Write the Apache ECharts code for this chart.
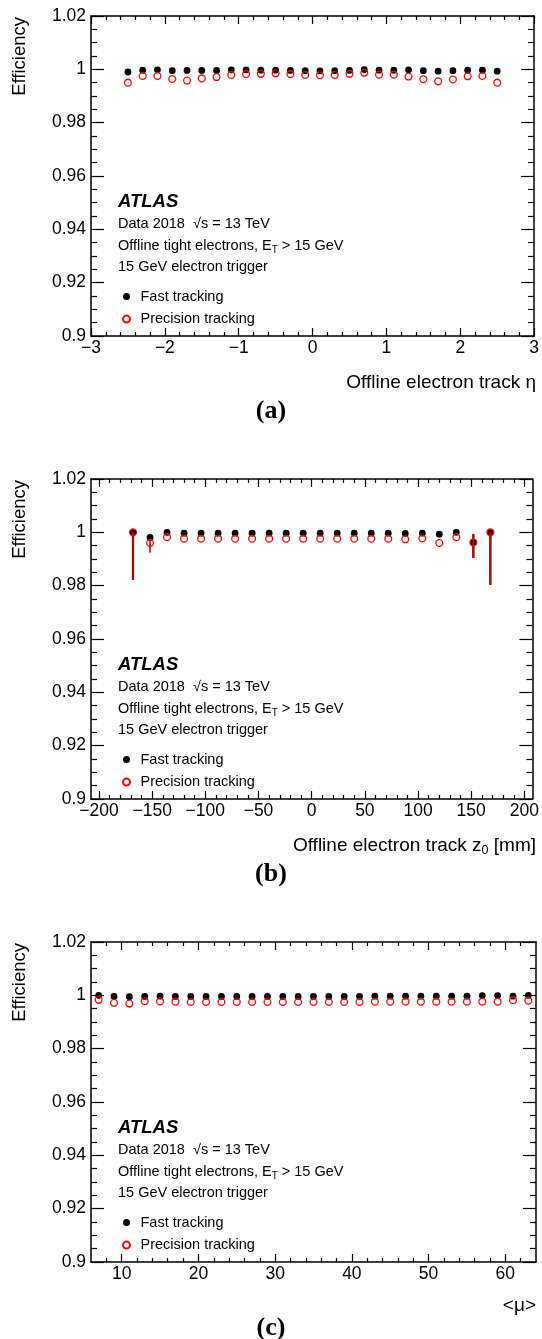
<!DOCTYPE html>
<html>
<head>
<meta charset="utf-8">
<script src="https://cdn.jsdelivr.net/npm/echarts@6/dist/echarts.min.js"></script>
<style>
html,body{margin:0;padding:0;background:#fff;}
#chart{width:542px;height:1339px;}
</style>
</head>
<body>
<div id="chart"></div>
<script>
// ---------------- DATA ----------------
// Panel (a): efficiency vs offline electron track eta
const etaCenters = [-2.5,-2.3,-2.1,-1.9,-1.7,-1.5,-1.3,-1.1,-0.9,-0.7,-0.5,-0.3,-0.1,0.1,0.3,0.5,0.7,0.9,1.1,1.3,1.5,1.7,1.9,2.1,2.3,2.5];
const etaFast = [0.9990,0.9997,0.9998,0.9995,0.9996,0.9996,0.9996,0.9998,0.9998,0.9997,0.9997,0.9996,0.9995,0.9994,0.9995,0.9996,0.9999,0.9997,0.9997,0.9998,0.9995,0.9993,0.9995,0.9997,0.9997,0.9993];
const etaPrec = [0.9950,0.9975,0.9975,0.9964,0.9958,0.9966,0.9971,0.9979,0.9982,0.9983,0.9985,0.9982,0.9979,0.9978,0.9979,0.9983,0.9987,0.9980,0.9980,0.9973,0.9963,0.9955,0.9962,0.9974,0.9975,0.9950];

// Panel (b): efficiency vs offline electron track z0 [mm]
const z0Centers = [-168,-152,-136,-120,-104,-88,-72,-56,-40,-24,-8,8,24,40,56,72,88,104,120,136,152,168];
const z0Fast = [1.0000,0.9981,1.0000,0.9997,0.9997,0.9997,0.9997,0.9997,0.9997,0.9997,0.9997,0.9997,0.9997,0.9997,0.9997,0.9997,0.9996,0.9997,0.9993,1.0000,0.9962,1.0000];
const z0Prec = [1.0000,0.9960,0.9982,0.9976,0.9976,0.9976,0.9976,0.9976,0.9976,0.9976,0.9976,0.9976,0.9976,0.9976,0.9976,0.9976,0.9974,0.9977,0.9960,0.9982,0.9962,1.0000];
const z0FastErrLo = [0.0178,0.0012,0,0,0,0,0,0,0,0,0,0,0,0,0,0,0,0,0,0,0.0058,0.0197];
const z0FastErrHi = [0,0.0005,0,0,0,0,0,0,0,0,0,0,0,0,0,0,0,0,0,0,0.0032,0];
const z0PrecErrLo = [0.0178,0.0037,0,0,0,0,0,0,0,0,0,0,0,0,0,0,0,0,0,0,0.0058,0.0197];
const z0PrecErrHi = [0,0.0015,0,0,0,0,0,0,0,0,0,0,0,0,0,0,0,0,0,0,0.0032,0];

// Panel (c): efficiency vs <mu>
const muCenters = [7,9,11,13,15,17,19,21,23,25,27,29,31,33,35,37,39,41,43,45,47,49,51,53,55,57,59,61,63];
const muFast = [1.0000,0.9996,0.9995,0.9996,0.9997,0.9996,0.9996,0.9996,0.9996,0.9996,0.9996,0.9996,0.9996,0.9996,0.9996,0.9996,0.9996,0.9996,0.9997,0.9997,0.9997,0.9997,0.9997,0.9997,0.9997,0.9999,0.9999,0.9997,1.0000];
const muPrec = [0.9983,0.9972,0.9969,0.9978,0.9977,0.9976,0.9975,0.9975,0.9975,0.9975,0.9975,0.9975,0.9975,0.9975,0.9975,0.9975,0.9975,0.9975,0.9976,0.9976,0.9976,0.9976,0.9976,0.9976,0.9976,0.9976,0.9976,0.9982,0.9980];

// Tick values
const yMajor = [0.90,0.92,0.94,0.96,0.98,1.00,1.02];
const yMinor = [0.905,0.91,0.915,0.925,0.93,0.935,0.945,0.95,0.955,0.965,0.97,0.975,0.985,0.99,0.995,1.005,1.01,1.015];
const etaMajor = [-3,-2,-1,0,1,2,3];
const etaMinor = [-2.8,-2.6,-2.4,-2.2,-1.8,-1.6,-1.4,-1.2,-0.8,-0.6,-0.4,-0.2,0.2,0.4,0.6,0.8,1.2,1.4,1.6,1.8,2.2,2.4,2.6,2.8];
const z0Major = [-200,-150,-100,-50,0,50,100,150,200];
const z0Minor = [-190,-180,-170,-160,-140,-130,-120,-110,-90,-80,-70,-60,-40,-30,-20,-10,10,20,30,40,60,70,80,90,110,120,130,140,160,170,180,190];
const muMajor = [10,20,30,40,50,60];
const muMinor = [8,12,14,16,18,22,24,26,28,32,34,36,38,42,44,46,48,52,54,56,58,62];

// Text
const seriesNames = ['Fast tracking','Precision tracking'];
const yTitle = 'Efficiency';
const panelLabels = ['(a)','(b)','(c)'];

// ---------------- LAYOUT ----------------
const FONT = '"Liberation Sans", Arial, Helvetica, sans-serif';
const PL = 91, PW = 445, PH = 320;
const panelTops = [16, 479, 942];
const xRanges = [[-3,3],[-207.5,207.5],[6,64]];
const xMajors = [etaMajor, z0Major, muMajor];
const xMinors = [etaMinor, z0Minor, muMinor];
const xTitleY = [383, 846, 1306];
const labelY = [411, 874, 1328];

function fmtX(v){ const r = +(+v).toFixed(3); return r < 0 ? '\u2212' + (-r) : String(r); }
function fmtY(v){ return String(+(+v).toFixed(3)); }

const grids = [], xAxes = [], yAxes = [], series = [], legends = [], graphics = [];
const AX = {color:'#000', width:1.5};
const TK = {color:'#000', width:1.2};

panelTops.forEach((top, i) => {
  grids.push({left: PL, top: top, width: PW, height: PH, containLabel:false});
  const [mn, mx] = xRanges[i];
  const baseX = {gridIndex:i, type:'value', min:mn, max:mx, splitLine:{show:false}};
  xAxes.push(Object.assign({}, baseX, {position:'bottom',
    axisLine:{show:true, onZero:false, lineStyle:AX},
    axisTick:{show:true, inside:true, length:8, customValues:xMajors[i], lineStyle:TK},
    axisLabel:{show:true, customValues:xMajors[i], formatter:fmtX, fontFamily:FONT, fontSize:17.5, color:'#000', margin:3}}));
  xAxes.push(Object.assign({}, baseX, {position:'bottom',
    axisLine:{show:false, onZero:false},
    axisTick:{show:true, inside:true, length:4, customValues:xMinors[i], lineStyle:TK},
    axisLabel:{show:false}}));
  xAxes.push(Object.assign({}, baseX, {position:'top',
    axisLine:{show:true, onZero:false, lineStyle:AX},
    axisTick:{show:true, inside:true, length:8, customValues:xMajors[i], lineStyle:TK},
    axisLabel:{show:false}}));
  xAxes.push(Object.assign({}, baseX, {position:'top',
    axisLine:{show:false, onZero:false},
    axisTick:{show:true, inside:true, length:4, customValues:xMinors[i], lineStyle:TK},
    axisLabel:{show:false}}));

  const baseY = {gridIndex:i, type:'value', min:0.9, max:1.02, splitLine:{show:false}};
  yAxes.push(Object.assign({}, baseY, {position:'left',
    axisLine:{show:true, onZero:false, lineStyle:AX},
    axisTick:{show:true, inside:true, length:13, customValues:yMajor, lineStyle:TK},
    axisLabel:{show:true, customValues:yMajor, formatter:fmtY, fontFamily:FONT, fontSize:17.5, color:'#000', margin:5}}));
  yAxes.push(Object.assign({}, baseY, {position:'left',
    axisLine:{show:false, onZero:false},
    axisTick:{show:true, inside:true, length:6, customValues:yMinor, lineStyle:TK},
    axisLabel:{show:false}}));
  yAxes.push(Object.assign({}, baseY, {position:'right',
    axisLine:{show:true, onZero:false, lineStyle:AX},
    axisTick:{show:true, inside:true, length:13, customValues:yMajor, lineStyle:TK},
    axisLabel:{show:false}}));
  yAxes.push(Object.assign({}, baseY, {position:'right',
    axisLine:{show:false, onZero:false},
    axisTick:{show:true, inside:true, length:6, customValues:yMinor, lineStyle:TK},
    axisLabel:{show:false}}));

  const off = top - 16;
  legends.push({
    orient:'vertical', left:117, top:283 + off, selectedMode:false,
    itemWidth:14, itemHeight:7, itemGap:5.6,
    textStyle:{fontFamily:FONT, fontSize:14.5, color:'#000', lineHeight:17, padding:[0,0,0,2]},
    data: seriesNames
  });

  graphics.push({type:'text', x:118, y:202 + off, style:{text:'ATLAS', font:'italic bold 18.5px ' + FONT, fill:'#000', textVerticalAlign:'middle'}});
  graphics.push({type:'text', x:118, y:224 + off, style:{text:'Data 2018  \u221As = 13 TeV', font:'14.5px ' + FONT, fill:'#000', textVerticalAlign:'middle'}});
  graphics.push({type:'text', x:118, y:246 + off, style:{
    text:'{a|Offline tight electrons, E}{s|T}{a| > 15 GeV}',
    font:'14.5px ' + FONT, fill:'#000', textVerticalAlign:'middle',
    rich:{a:{fontFamily:FONT, fontSize:14.5, color:'#000'}, s:{fontFamily:FONT, fontSize:10, color:'#000', padding:[9,0,0,0]}}}});
  graphics.push({type:'text', x:118, y:267 + off, style:{text:'15 GeV electron trigger', font:'14.5px ' + FONT, fill:'#000', textVerticalAlign:'middle'}});

  graphics.push({type:'text', x:20, y:top + 1, rotation:Math.PI/2, style:{text:yTitle, font:'18.5px ' + FONT, fill:'#000', textAlign:'right', textVerticalAlign:'middle'}});
  graphics.push({type:'text', x:271, y:labelY[i], style:{text:panelLabels[i], font:'bold 26px "Liberation Serif", "Times New Roman", serif', fill:'#000', textAlign:'center', textVerticalAlign:'middle'}});
});

graphics.push({type:'text', x:536, y:xTitleY[0], style:{text:'Offline electron track \u03B7', font:'19px ' + FONT, fill:'#000', textAlign:'right', textVerticalAlign:'middle'}});
graphics.push({type:'text', x:536, y:xTitleY[1], style:{
  text:'{a|Offline electron track z}{s|0}{a| [mm]}', font:'19px ' + FONT, fill:'#000', textAlign:'right', textVerticalAlign:'middle',
  rich:{a:{fontFamily:FONT, fontSize:19, color:'#000'}, s:{fontFamily:FONT, fontSize:12.5, color:'#000', padding:[10,0,0,0]}}}});
graphics.push({type:'text', x:536, y:xTitleY[2], style:{text:'<\u03BC>', font:'19px ' + FONT, fill:'#000', textAlign:'right', textVerticalAlign:'middle'}});

// ---------------- SERIES ----------------
const fastStyle = {color:'#000', opacity:1};
const precStyle = {color:'rgba(255,255,255,0)', borderColor:'#ff0000', borderWidth:1.3, opacity:1};
const panelData = [
  [etaCenters, etaFast, etaPrec],
  [z0Centers, z0Fast, z0Prec],
  [muCenters, muFast, muPrec]
];
function errSeries(name, xs, vals, lo, hi, color, width, z){
  return {
    name: name + ' errors', type:'custom', xAxisIndex:4, yAxisIndex:4, z:z, silent:true,
    data: xs.map((x, k) => [x, vals[k] - lo[k], vals[k] + hi[k]]),
    renderItem: function(params, api){
      const p1 = api.coord([api.value(0), api.value(1)]);
      const p2 = api.coord([api.value(0), api.value(2)]);
      return {type:'line', shape:{x1:p1[0], y1:p1[1], x2:p2[0], y2:p2[1]}, style:{stroke:color, lineWidth:width}};
    }
  };
}
panelData.forEach((d, i) => {
  const [xs, f, p] = d;
  if (i === 1) {
    series.push(errSeries('Fast tracking', xs, f, z0FastErrLo, z0FastErrHi, '#000', 2.2, 1));
  }
  series.push({name:seriesNames[0], type:'scatter', xAxisIndex:4*i, yAxisIndex:4*i, z:2,
    symbol:'circle', symbolSize:6.8, itemStyle:fastStyle, data: xs.map((x,k)=>[x, f[k]])});
  if (i === 1) {
    series.push(errSeries('Precision tracking', xs, p, z0PrecErrLo, z0PrecErrHi, '#dd0000', 1.6, 3));
  }
  series.push({name:seriesNames[1], type:'scatter', xAxisIndex:4*i, yAxisIndex:4*i, z:4,
    symbol:'circle', symbolSize:6.8, itemStyle:precStyle, data: xs.map((x,k)=>[x, p[k]])});
});

const chart = echarts.init(document.getElementById('chart'), null, {renderer:'canvas'});
chart.setOption({
  backgroundColor:'#fff',
  animation:false,
  grid: grids,
  xAxis: xAxes,
  yAxis: yAxes,
  legend: legends,
  series: series,
  graphic: graphics
});
</script>
</body>
</html>
